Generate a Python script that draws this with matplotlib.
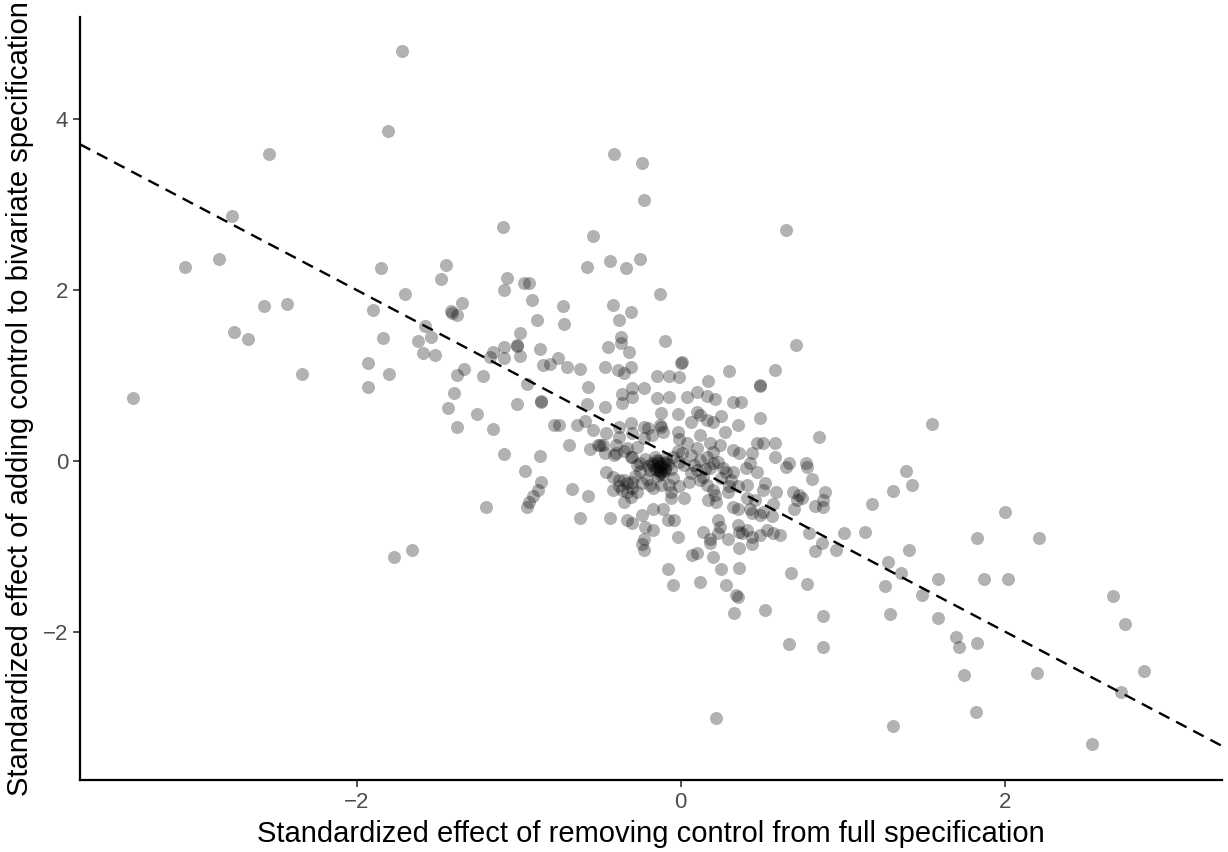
import matplotlib.pyplot as plt
import numpy as np

plt.rcParams['font.family'] = ['Liberation Sans', 'DejaVu Sans']

# Standardized effects: removing control from full spec (x) vs adding control to bivariate spec (y)
x_left = [-1.72, -1.81, -2.54, -2.77, -3.06, -2.85, -1.85, -1.70, -2.57, -2.43, -1.90,
          -2.76, -2.67, -1.84, -1.93, -1.80, -2.34, -1.93, -3.38, -1.77, -1.66]
y_left = [4.80, 3.86, 3.59, 2.87, 2.27, 2.36, 2.26, 1.95, 1.81, 1.84, 1.77,
          1.51, 1.43, 1.44, 1.15, 1.02, 1.02, 0.87, 0.74, -1.13, -1.05]

x_upper_mid = [-1.10, -0.54, -1.45, -1.48, -0.58, -1.07, -1.09, -0.97, -0.94, -1.35, -0.92,
               -1.42, -1.41, -1.38, -0.73, -0.72, -0.89, -1.58, -1.62, -1.54, -1.59, -1.52,
               -0.99, -1.01, -1.01, -1.09, -1.16, -1.18, -1.09, -0.99, -0.87, -0.76, -0.85,
               -0.81, -0.70, -0.62, -1.34, -1.38, -1.22, -1.40, -1.44, -1.26, -1.38, -1.16,
               -1.01, -0.95, -0.86, -0.86, -0.57, -0.58, -0.59, -0.54, -0.78, -0.75, -0.64,
               -0.69, -0.56, -0.51, -0.50, -1.09, -0.87, -0.96, -0.86, -0.88, -0.91, -0.94,
               -0.95, -0.67, -0.57, -0.62, -1.20]
y_upper_mid = [2.74, 2.64, 2.30, 2.13, 2.27, 2.14, 2.00, 2.08, 2.08, 1.85, 1.89,
               1.75, 1.73, 1.71, 1.81, 1.60, 1.65, 1.58, 1.40, 1.45, 1.26, 1.24,
               1.50, 1.35, 1.36, 1.33, 1.27, 1.22, 1.20, 1.23, 1.31, 1.20, 1.12,
               1.13, 1.10, 1.08, 1.08, 1.01, 0.99, 0.80, 0.62, 0.55, 0.40, 0.37,
               0.67, 0.90, 0.69, 0.70, 0.87, 0.67, 0.47, 0.36, 0.42, 0.42, 0.42,
               0.19, 0.14, 0.19, 0.18, 0.08, 0.06, -0.12, -0.25, -0.34, -0.41, -0.48,
               -0.54, -0.33, -0.41, -0.67, -0.54]

x_top = [0.65, -0.44, -0.34, -0.25, -0.13, -0.42, -0.31, -0.38, -0.37, -0.37, -0.45,
         -0.32, -0.10, 0.71, -0.47, -0.39, -0.35, -0.31, -0.15, -0.07, -0.01, 0.00,
         0.01, 0.17, 0.30, 0.58, 0.49, 0.49, -0.47, -0.36, -0.36, -0.30, -0.30, -0.23,
         -0.15, -0.07, 0.04, 0.10, 0.16, 0.21, 0.32, 0.37, -0.12, -0.02, 0.10, 0.12,
         0.16, 0.20, 0.25, 0.49, 0.35, 0.06, -0.31, -0.13, -0.12, -0.23, -0.38, -0.20,
         -0.41, -0.24, -0.23]
y_top = [2.70, 2.34, 2.26, 2.36, 1.96, 1.82, 1.74, 1.65, 1.45, 1.38, 1.33,
         1.27, 1.40, 1.36, 1.10, 1.06, 1.03, 1.10, 0.99, 0.99, 0.98, 1.15,
         1.16, 0.94, 1.05, 1.06, 0.88, 0.89, 0.63, 0.78, 0.68, 0.85, 0.75, 0.85,
         0.74, 0.75, 0.75, 0.81, 0.76, 0.72, 0.69, 0.69, 0.56, 0.55, 0.57, 0.54,
         0.48, 0.46, 0.53, 0.50, 0.42, 0.46, 0.44, 0.42, 0.40, 0.40, 0.40, 0.38,
         3.60, 3.49, 3.06]

x_center = [-0.46, -0.38, -0.30, -0.23, -0.18, -0.11, -0.02, -0.01, 0.04, 0.12, 0.18,
            0.24, 0.27, 0.32, 0.36, 0.47, 0.51, 0.58, 0.44, -0.48, -0.47, -0.40, -0.33,
            -0.27, -0.40, -0.41, -0.31, -0.25, -0.27,
            -0.15, -0.14, -0.13, -0.12, -0.15, -0.11, -0.17, -0.09, -0.13, -0.16, -0.10, -0.19,
            -0.05, -0.01, 0.01, 0.06, 0.02, 0.12, 0.16, 0.20, 0.18, 0.23, 0.26, 0.28,
            0.10, 0.06, 0.14, 0.12, 0.32, 0.31, 0.35, 0.40, 0.43, 0.47, 0.58, 0.67, 0.65,
            -0.46, -0.42, -0.38, -0.33, -0.36, -0.33, -0.30, -0.35, -0.31, -0.27, -0.24, -0.42,
            -0.19, -0.17, -0.12, -0.07, -0.06, -0.06, -0.01, 0.02,
            0.16, 0.20, 0.21, 0.22, 0.17, 0.41, 0.41, 0.46, 0.52, 0.51,
            0.29, 0.32, 0.35, 0.43, 0.44, 0.49, 0.51, 0.57, 0.59, 0.69, 0.72, 0.70, 0.61, 0.57,
            0.56, -0.44, -0.33, -0.30, -0.24, -0.22, -0.17, -0.11, -0.08, -0.04, -0.17,
            -0.23, -0.24, -0.23, -0.02, 0.14, 0.18, 0.18, 0.23, 0.24, 0.23, 0.29,
            0.35, 0.36, 0.38, 0.41, 0.44, 0.49, 0.53, 0.36, 0.44, 0.07, 0.10, 0.20,
            -0.08, -0.05, 0.12, 0.25, 0.28, 0.36, 0.34, 0.35, 0.33, 0.52, 0.68]
y_center = [0.33, 0.28, 0.33, 0.27, 0.30, 0.34, 0.34, 0.25, 0.21, 0.30, 0.21,
            0.19, 0.34, 0.13, 0.09, 0.21, 0.21, 0.21, 0.09, 0.19, 0.09, 0.19, 0.15,
            0.16, 0.09, 0.07, 0.05, -0.02, -0.05,
            0.01, -0.02, -0.07, -0.13, -0.11, -0.02, -0.05, -0.01, -0.16, 0.05, -0.11, -0.11,
            0.04, -0.01, 0.09, 0.07, -0.05, 0.01, 0.04, -0.02, -0.08, -0.01, -0.08, -0.13,
            -0.11, -0.14, -0.19, -0.22, -0.13, -0.22, -0.30, -0.08, -0.02, -0.13, 0.05, -0.02, -0.07,
            -0.13, -0.19, -0.22, -0.26, -0.34, -0.36, -0.32, -0.48, -0.42, -0.37, -0.26, -0.34,
            -0.28, -0.32, -0.28, -0.28, -0.37, -0.43, -0.30, -0.43,
            -0.28, -0.34, -0.40, -0.48, -0.46, -0.28, -0.43, -0.46, -0.26, -0.34,
            -0.36, -0.54, -0.57, -0.57, -0.61, -0.63, -0.60, -0.51, -0.36, -0.36, -0.46, -0.57, -0.87, -0.84,
            -0.65, -0.67, -0.69, -0.73, -0.63, -0.77, -0.57, -0.57, -0.69, -0.69, -0.81,
            -0.92, -0.98, -1.04, -0.89, -0.83, -0.92, -0.96, -0.69, -0.77, -0.84, -0.92,
            -0.75, -0.83, -0.84, -0.81, -0.89, -0.87, -0.81, -1.02, -0.98, -1.10, -1.08, -1.13,
            -1.27, -1.46, -1.42, -1.27, -1.46, -1.25, -1.57, -1.60, -1.78, -1.75, -1.32]

# extra overlapping points in the dark core near the origin
x_core = [-0.18, -0.14, -0.12, -0.10, -0.16, -0.13, -0.11, -0.14, -0.08, -0.06,
          -0.20, -0.09, -0.22, -0.25, -0.28, -0.30, -0.35, -0.38, -0.21, -0.05,
          0.05, 0.08, 0.15, 0.25, 0.20, -0.30, -0.35, 0.10, -0.02, 0.30]
y_core = [-0.03, 0.00, -0.05, -0.08, -0.09, -0.12, -0.15, -0.18, -0.04, -0.10,
          -0.06, 0.03, 0.02, -0.12, -0.18, -0.25, -0.22, -0.30, -0.21, -0.20,
          -0.25, -0.05, -0.10, -0.20, 0.10, 0.05, 0.12, 0.15, 0.12, -0.30]

x_right = [1.55, 0.85, 0.77, 0.78, 0.81, 0.73, 0.75, 0.89, 0.88, 0.83, 0.88,
           1.39, 1.43, 1.31, 1.18, 2.00, 0.79, 0.87, 0.83, 0.96, 1.01, 1.14,
           1.41, 1.28, 1.36, 1.26, 1.59, 1.49, 1.83, 2.21, 1.87, 2.02, 0.78,
           1.29, 1.59, 0.88, 1.70, 1.72, 1.83, 0.88,
           0.22, 0.67, 1.75, 1.82, 1.31, 2.20, 2.67, 2.74, 2.72, 2.86, 2.54]
y_right = [0.43, 0.28, -0.02, -0.07, -0.21, -0.40, -0.44, -0.37, -0.46, -0.53, -0.54,
           -0.12, -0.28, -0.35, -0.51, -0.60, -0.84, -0.96, -1.06, -1.04, -0.84, -0.83,
           -1.04, -1.19, -1.31, -1.47, -1.38, -1.57, -0.91, -0.91, -1.38, -1.39, -1.44,
           -1.79, -1.84, -1.82, -2.07, -2.18, -2.13, -2.18,
           -3.01, -2.15, -2.51, -2.94, -3.11, -2.49, -1.58, -1.91, -2.71, -2.46, -3.32]

x = np.array(x_left + x_upper_mid + x_top + x_center + x_core + x_right)
y = np.array(y_left + y_upper_mid + y_top + y_center + y_core + y_right)

fig = plt.figure(figsize=(12.28, 8.52), dpi=100)
ax = fig.add_axes([0.065, 0.0845, 0.93, 0.8955])

ax.scatter(x, y, s=88, color='black', alpha=0.3, linewidths=0)

xlim = (-3.71, 3.34)
xx = np.array(xlim)
ax.plot(xx, -xx, color='black', linestyle=(0, (5, 3.2)), linewidth=1.7)

ax.set_xlim(*xlim)
ax.set_ylim(-3.74, 5.20)
ax.set_xticks([-2, 0, 2])
ax.set_yticks([-2, 0, 2, 4])
ax.set_xticklabels(['\u22122', '0', '2'])
ax.set_yticklabels(['\u22122', '0', '2', '4'])

for side in ['top', 'right']:
    ax.spines[side].set_visible(False)
for side in ['left', 'bottom']:
    ax.spines[side].set_linewidth(1.6)
ax.tick_params(axis='both', colors='#333333', labelcolor='#4d4d4d', labelsize=16,
               length=5, width=1.2)

ax.set_xlabel('Standardized effect of removing control from full specification',
              fontsize=21, labelpad=5)
ax.set_ylabel('Standardized effect of adding control to bivariate specification',
              fontsize=21, labelpad=6)

fig.savefig('out.png', dpi=100)
